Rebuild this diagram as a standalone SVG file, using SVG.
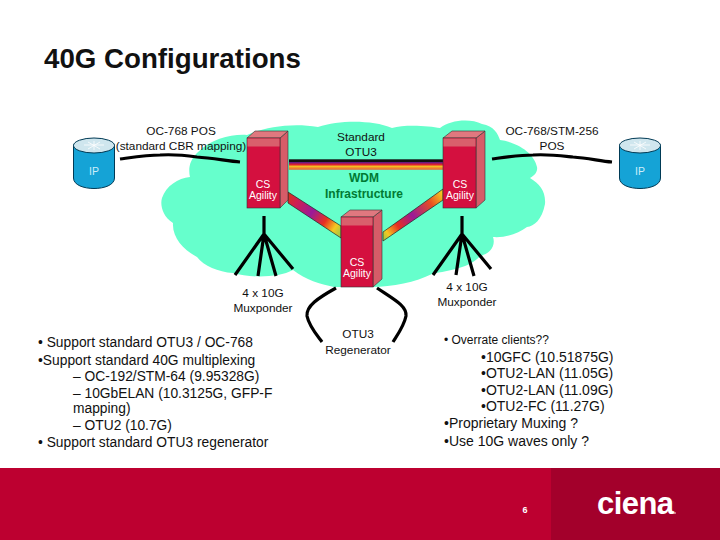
<svg xmlns="http://www.w3.org/2000/svg" width="720" height="540" viewBox="0 0 720 540">
<style>
text{font-family:"Liberation Sans",Arial,sans-serif;fill:#111}
.lab{font-size:11.8px;text-anchor:middle}
.body{font-size:13.8px}
.rt{font-size:14px}
.wh{fill:#fff;font-size:10.5px;text-anchor:middle}
.ip{fill:#cdeefa;font-size:10.5px;text-anchor:middle}
.gr{fill:#007a33;font-size:12px;font-weight:bold;text-anchor:middle}
.wire{fill:none;stroke:#000;stroke-width:3.2;stroke-linecap:butt}
.front{fill:#d4103f;stroke:#333;stroke-width:.6}
.band{fill:#d95f6c}
.side{fill:#d65c68;stroke:#333;stroke-width:.6}
.top{fill:#e0787f;stroke:#333;stroke-width:.6}
.cyl{fill:#15a3d6;stroke:#003a55}
.lid{fill:#cfe6ee;stroke:#003a55}
.mark{fill:none;stroke:#fff;stroke-width:1;opacity:.8}
</style>
<defs>
<linearGradient id="rbH" x1="0" y1="0" x2="0" y2="1">
<stop offset="0" stop-color="#111"/><stop offset=".22" stop-color="#111"/><stop offset=".3" stop-color="#6a1a80"/><stop offset=".5" stop-color="#e02030"/><stop offset=".68" stop-color="#f5c020"/><stop offset=".85" stop-color="#f08030"/><stop offset="1" stop-color="#e07040"/>
</linearGradient>
<linearGradient id="rbL" gradientUnits="userSpaceOnUse" x1="288" y1="197" x2="341" y2="232">
<stop offset="0" stop-color="#d83020"/><stop offset=".15" stop-color="#d02050"/><stop offset=".45" stop-color="#9a1a98"/><stop offset=".7" stop-color="#e83020"/><stop offset=".88" stop-color="#f5c820"/><stop offset="1" stop-color="#a8c840"/>
</linearGradient>
<linearGradient id="rbR" gradientUnits="userSpaceOnUse" x1="443" y1="195" x2="383" y2="237">
<stop offset="0" stop-color="#f5c820"/><stop offset=".2" stop-color="#e85020"/><stop offset=".5" stop-color="#9a1a98"/><stop offset=".75" stop-color="#e83020"/><stop offset=".92" stop-color="#f5c820"/><stop offset="1" stop-color="#a8c840"/>
</linearGradient>
</defs>
<rect width="720" height="540" fill="#fff"/>
<text x="44" y="68" font-size="27.7" font-weight="bold">40G Configurations</text>

<path id="cloud" fill="#66ffcc" d="M197 153C212 138 232 134 247 135C262 128 290 122 318 127C340 120 372 120 392 128C405 124 430 126 440 128C450 120 470 118 482 124C494 126 498 134 500 140C516 142 534 152 537 167C538 172 534 176 530 178C540 184 546 192 545 204C542 220 534 226 527 227C518 234 504 238 493 237C496 246 490 254 480 256C470 268 450 270 432 274C416 282 392 287 372 287L334 287C320 284 306 280 293 270C278 278 250 278 233 273C218 272 204 266 197 257C184 250 172 238 173 223C162 216 160 204 162 198C166 186 178 178 190 177C188 168 190 160 197 153Z"/>

<g id="connectors">
<rect x="289" y="159.300" width="154" height="10.500" fill="url(#rbH)"/>
<path d="M288 192L341 226L341 238L288 203Z" fill="url(#rbL)" stroke="#222" stroke-width=".7"/>
<path d="M443 189L383 232L383 241L443 200Z" fill="url(#rbR)" stroke="#222" stroke-width=".7"/>
<path class="wire" d="M120 159C135 157 148 155 160 155C175 154 190 156 197 157C212 158 228 161 240 162"/>
<path class="wire" d="M492 159C507 157 520 155 533 155C548 154 563 156 573 157C588 158 600 161 612 162"/>
<g class="wire">
<path d="M264 216V236M264 234L235 275M264 234L258 276M264 234L276 276M264 234L293 269"/>
<path d="M462 216V236M462 234L433 275M462 234L456 275M462 234L474 276M462 234L491 269"/>
<path d="M336 288C318 298 306 306 307 316C309 326 316 334 322 342"/>
<path d="M377 288C395 300 407 306 406 316C404 326 398 334 393 342"/>
</g>
</g>

<g id="ip-left">
<path class="cyl" d="M73.500 145V178C73.500 192 114.500 192 114.500 178V145Z"/>
<ellipse class="lid" cx="94" cy="145.500" rx="20.500" ry="7.500"/>
<path class="mark" d="M84 145H104M94 141V150M88 142L100 149M100 142L88 149"/>
<text x="94" y="175" class="ip">IP</text>
</g>
<g id="ip-right">
<path class="cyl" d="M619.500 145V178C619.500 192 660.500 192 660.500 178V145Z"/>
<ellipse class="lid" cx="640" cy="145.500" rx="20.500" ry="7.500"/>
<path class="mark" d="M630 145H650M640 141V150M634 142L646 149M646 142L634 149"/>
<text x="640" y="175" class="ip">IP</text>
</g>

<g id="cs-left">
<path class="side" d="M280 138L288 131V200L280 208Z"/>
<path class="top" d="M247 138L255 131H288L280 138Z"/>
<rect class="front" x="247" y="138" width="33" height="70"/>
<rect class="band" x="247.500" y="138.500" width="32" height="8"/>
<text x="263" y="188" class="wh">CS</text><text x="263" y="199" class="wh">Agility</text>
</g>
<g id="cs-right">
<path class="side" d="M476 138L485 131V200L476 208Z"/>
<path class="top" d="M443 138L452 131H485L476 138Z"/>
<rect class="front" x="443" y="138" width="33" height="70"/>
<rect class="band" x="443.500" y="138.500" width="32" height="8"/>
<text x="460" y="188" class="wh">CS</text><text x="460" y="199" class="wh">Agility</text>
</g>
<g id="cs-bottom">
<path class="side" d="M373 217L382 210V279L373 287Z"/>
<path class="top" d="M341 217L350 210H382L373 217Z"/>
<rect class="front" x="341" y="217" width="32" height="70"/>
<rect class="band" x="341.500" y="217.500" width="31" height="8"/>
<text x="357" y="266" class="wh">CS</text><text x="357" y="277" class="wh">Agility</text>
</g>

<g id="labels">
<text x="181" y="135" class="lab">OC-768 POS</text>
<text x="181" y="150" class="lab">(standard CBR mapping)</text>
<text x="361" y="141" class="lab">Standard</text>
<text x="361" y="156" class="lab">OTU3</text>
<text x="552" y="135" class="lab">OC-768/STM-256</text>
<text x="552" y="150" class="lab">POS</text>
<text x="364" y="182" class="gr">WDM</text>
<text x="364" y="198" class="gr">Infrastructure</text>
<text x="263" y="297" class="lab">4 x 10G</text>
<text x="263" y="312" class="lab">Muxponder</text>
<text x="467" y="291" class="lab">4 x 10G</text>
<text x="467" y="306" class="lab">Muxponder</text>
<text x="358" y="338" class="lab">OTU3</text>
<text x="358" y="354" class="lab">Regenerator</text>
</g>

<g id="left-text">
<text x="38" y="347" class="body">• Support standard OTU3 / OC-768</text>
<text x="38" y="365" class="body">•Support standard 40G multiplexing</text>
<text x="73" y="381" class="body">– OC-192/STM-64 (9.95328G)</text>
<text x="73" y="398" class="body">– 10GbELAN (10.3125G, GFP-F</text>
<text x="73" y="413" class="body">mapping)</text>
<text x="73" y="430" class="body">– OTU2 (10.7G)</text>
<text x="38" y="447" class="body">• Support standard OTU3 regenerator</text>
</g>
<g id="right-text">
<text x="444" y="344" font-size="12">• Overrate clients??</text>
<text x="481" y="362" class="rt">•10GFC (10.51875G)</text>
<text x="481" y="378" class="rt">•OTU2-LAN (11.05G)</text>
<text x="481" y="395" class="rt">•OTU2-LAN (11.09G)</text>
<text x="481" y="411" class="rt">•OTU2-FC (11.27G)</text>
<text x="444" y="428" class="rt">•Proprietary Muxing ?</text>
<text x="444" y="446" class="rt">•Use 10G waves only ?</text>
</g>

<g id="footer">
<rect x="0" y="468" width="720" height="72" fill="#bd0030"/>
<rect x="551" y="468" width="169" height="72" fill="#a3002b"/>
<text x="525" y="513" font-size="9" font-weight="bold" text-anchor="middle" style="fill:#fff">6</text>
<text x="597" y="514" font-size="31" font-weight="bold" style="fill:#fff" textLength="77">ciena</text>
<circle cx="675" cy="513" r=".8" fill="#fff"/>
</g>
</svg>
